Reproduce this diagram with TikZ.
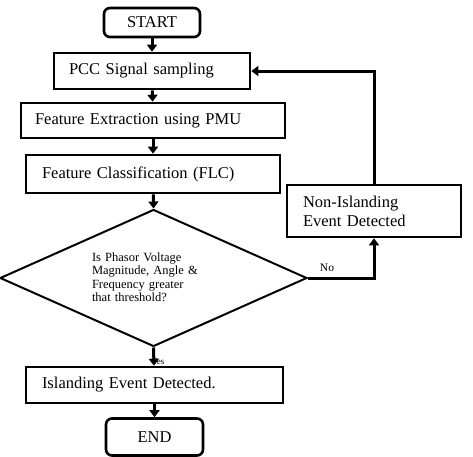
\documentclass[tikz,border=0pt]{standalone}
\usepackage{fontspec}
\setmainfont{Liberation Serif}
\usetikzlibrary{shapes.geometric,arrows.meta}

\begin{document}
\begin{tikzpicture}[x=1pt,y=-1pt,
        box/.style={draw, line width=2.6pt, inner sep=0pt, minimum height=36pt,
            align=left, font=\fontsize{16.5}{18}\selectfont},
        term/.style={box, rounded corners=6pt, minimum width=96pt, align=center},
        flow/.style={line width=3pt, -{Triangle[length=7pt,width=10pt]}}]
        \useasboundingbox (0,0) rectangle (473,456);

        \node[term, minimum height=29pt] (start) at (152,22.5) {START};
        \node[box, minimum width=196pt, text width=166pt] (pcc) at (152,71) {PCC Signal sampling};
        \node[box, minimum width=264pt, minimum height=35pt, text width=236pt] (extract) at (153,120.5) {Feature Extraction using PMU};
        \node[box, minimum width=254pt, minimum height=38pt, text width=222pt] (classify) at (153,174) {Feature Classification (FLC)};
        \node[draw, diamond, line width=2pt, shape aspect=2.24, inner sep=0pt,
            minimum width=307pt, minimum height=137pt] (check) at (153.5,278) {};
        \node[text width=124pt, align=left, font=\fontsize{12.5}{13.5}\selectfont]
            (question) at (154,277) {Is Phasor Voltage\\Magnitude, Angle \&\\Frequency greater\\that threshold?};
        \node[box, minimum width=174pt, minimum height=52pt, text width=142pt,
            font=\fontsize{16.5}{19}\selectfont] (nonisl) at (374,211) {Non-Islanding\\Event Detected};
        \node[box, minimum width=257pt, text width=225pt] (isl) at (154.5,385) {Islanding Event Detected.};
        \node[term, minimum height=37pt, minimum width=97pt] (end) at (154.5,437) {END};

        %% connectors
        \draw[flow] (start) -- (pcc);
        \draw[flow] (pcc) -- (extract);
        \draw[flow] (extract) -- (classify);
        \draw[flow] (classify) -- (check.north);
        \draw[flow] (check.south) -- (isl);
        \draw[flow] (isl) -- (end);
        \draw[flow] (check.east) -| (nonisl.south);
        \draw[flow] (nonisl.north) |- (pcc.east);

        \node[font=\fontsize{11.5}{12}\selectfont] (no) at (327,268) {No};
        \node[font=\fontsize{9}{10}\selectfont, anchor=west, inner sep=0pt] (yes) at (151,362) {Yes};
\end{tikzpicture}
\end{document}
